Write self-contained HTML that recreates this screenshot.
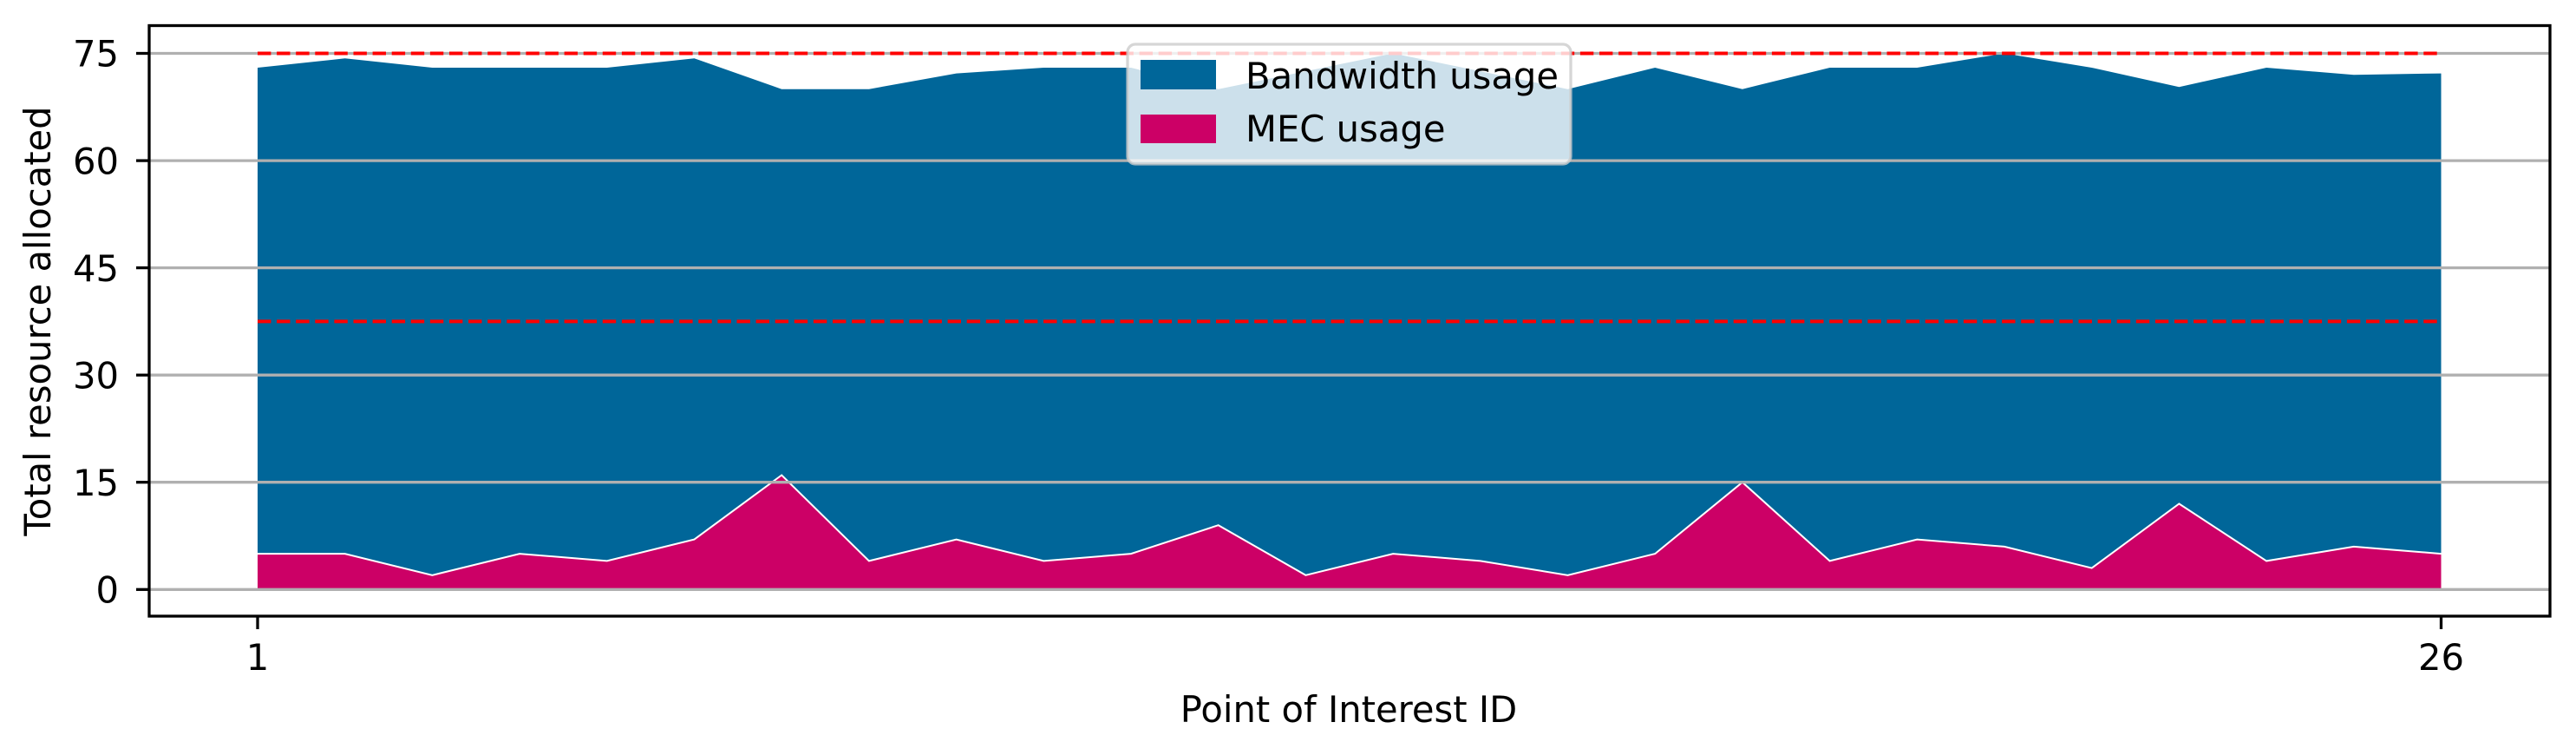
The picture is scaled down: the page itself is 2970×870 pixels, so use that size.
<!DOCTYPE html>
<html><head><meta charset="utf-8"><style>
html,body{margin:0;padding:0;background:#fff;}
svg{display:block;}
text{font-family:"DejaVu Sans","Liberation Sans",sans-serif;font-size:41.7px;fill:#000;}
</style></head><body>
<svg width="2970" height="870" viewBox="0 0 2970 870" xmlns="http://www.w3.org/2000/svg">
<rect width="2970" height="870" fill="#fff"/>
<!-- bandwidth (total) area -->
<polygon fill="#006699" points="297,679.3 297,78 397.7,67.3 498.4,78 599.1,78 699.8,78 800.5,67.3 901.2,102.7 1001.9,102.7 1102.6,84.6 1203.3,78 1304,78 1404.7,102.7 1505.4,82.1 1606.1,61.5 1706.8,82.1 1807.5,102.7 1908.2,78 2008.9,102.7 2109.6,78 2210.3,78 2311,61.5 2411.7,78 2512.4,100.2 2613.1,78 2713.8,86.2 2814.5,84.6 2814.5,679.3"/>
<!-- MEC area -->
<polygon fill="#cc0066" points="297,679.3 297,638.1 397.7,638.1 498.4,662.8 599.1,638.1 699.8,646.4 800.5,621.6 901.2,547.5 1001.9,646.4 1102.6,621.6 1203.3,646.4 1304,638.1 1404.7,605.2 1505.4,662.8 1606.1,638.1 1706.8,646.4 1807.5,662.8 1908.2,638.1 2008.9,555.7 2109.6,646.4 2210.3,621.6 2311,629.9 2411.7,654.6 2512.4,580.5 2613.1,646.4 2713.8,629.9 2814.5,638.1 2814.5,679.3"/>
<polyline fill="none" stroke="#fff" stroke-width="2" points="297,638.1 397.7,638.1 498.4,662.8 599.1,638.1 699.8,646.4 800.5,621.6 901.2,547.5 1001.9,646.4 1102.6,621.6 1203.3,646.4 1304,638.1 1404.7,605.2 1505.4,662.8 1606.1,638.1 1706.8,646.4 1807.5,662.8 1908.2,638.1 2008.9,555.7 2109.6,646.4 2210.3,621.6 2311,629.9 2411.7,654.6 2512.4,580.5 2613.1,646.4 2713.8,629.9 2814.5,638.1"/>
<!-- grid -->
<g stroke="#b0b0b0" stroke-width="3.3">
<line x1="172" x2="2940" y1="679.3" y2="679.3"/>
<line x1="172" x2="2940" y1="555.7" y2="555.7"/>
<line x1="172" x2="2940" y1="432.2" y2="432.2"/>
<line x1="172" x2="2940" y1="308.6" y2="308.6"/>
<line x1="172" x2="2940" y1="185.1" y2="185.1"/>
<line x1="172" x2="2940" y1="61.5" y2="61.5"/>
</g>
<!-- red dashed -->
<g stroke="#ff0000" stroke-width="4" stroke-dasharray="15.4 6.7">
<line x1="297" x2="2812" y1="61.5" y2="61.5"/>
<line x1="297" x2="2812" y1="370.4" y2="370.4"/>
</g>
<!-- axes -->
<rect x="172" y="29.5" width="2768" height="680.5" fill="none" stroke="#000" stroke-width="3.3"/>
<g stroke="#000" stroke-width="3.3">
<line x1="157" x2="172" y1="679.3" y2="679.3"/>
<line x1="157" x2="172" y1="555.7" y2="555.7"/>
<line x1="157" x2="172" y1="432.2" y2="432.2"/>
<line x1="157" x2="172" y1="308.6" y2="308.6"/>
<line x1="157" x2="172" y1="185.1" y2="185.1"/>
<line x1="157" x2="172" y1="61.5" y2="61.5"/>
<line x1="297" x2="297" y1="710" y2="725"/>
<line x1="2814.5" x2="2814.5" y1="710" y2="725"/>
</g>
<g text-anchor="end">
<text x="137" y="694.5">0</text>
<text x="137" y="570.9">15</text>
<text x="137" y="447.4">30</text>
<text x="137" y="323.8">45</text>
<text x="137" y="200.3">60</text>
<text x="137" y="76.7">75</text>
</g>
<g text-anchor="middle">
<text x="297" y="772">1</text>
<text x="2814.5" y="772">26</text>
<text x="1555" y="832">Point of Interest ID</text>
<text transform="translate(58,370) rotate(-90)">Total resource allocated</text>
</g>
<!-- legend -->
<rect x="1300" y="51" width="511" height="138" rx="9" ry="9" fill="#ffffff" fill-opacity="0.8" stroke="#cccccc" stroke-opacity="0.8" stroke-width="3.3"/>
<rect x="1315" y="69" width="87" height="34" fill="#006699"/>
<rect x="1315" y="132" width="87" height="33" fill="#cc0066"/>
<text x="1436" y="102">Bandwidth usage</text>
<text x="1436" y="163">MEC usage</text>
</svg>
</body></html>
